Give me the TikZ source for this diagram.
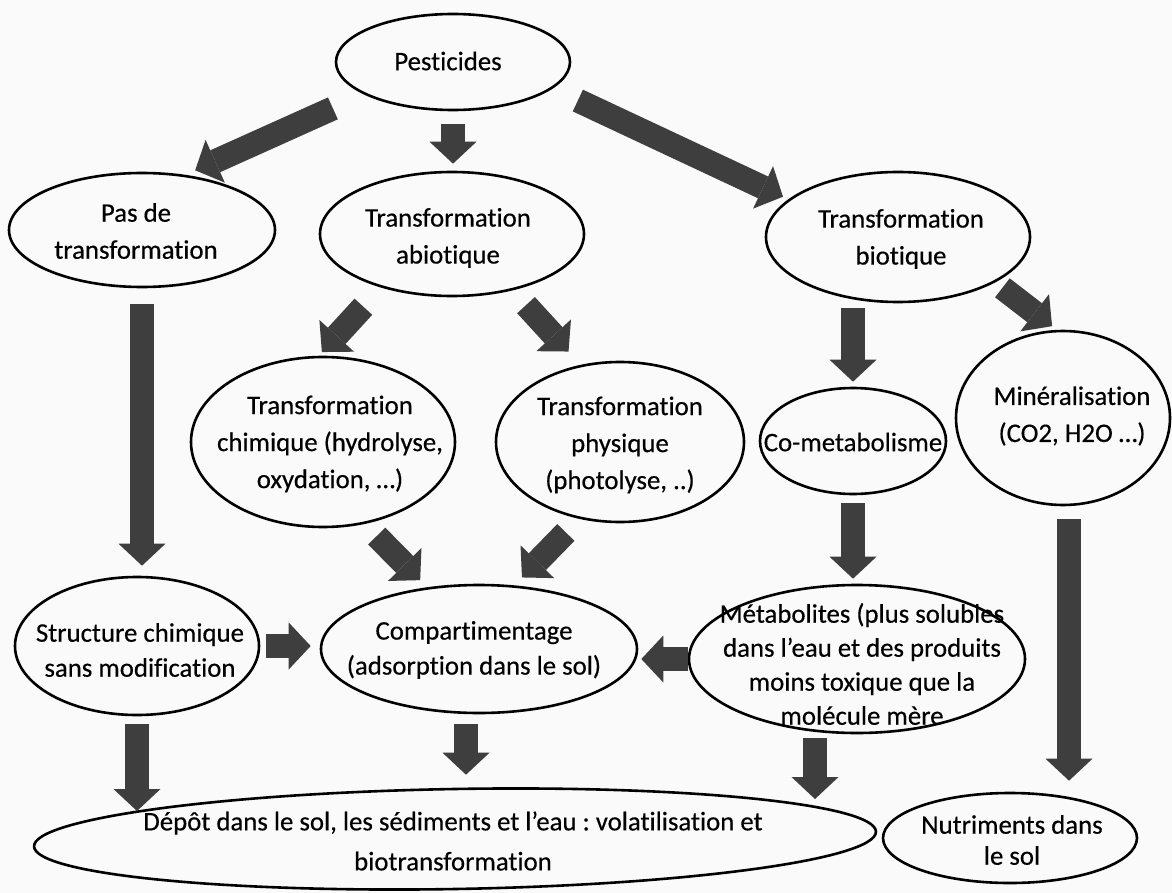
\documentclass[tikz,border=0pt]{standalone}
\usepackage{fontspec}
\setmainfont[Ligatures=NoCommon]{Carlito}
\usetikzlibrary{shapes.geometric,arrows.meta}
\definecolor{arrowgray}{RGB}{62,62,62}
\definecolor{bggray}{RGB}{250,250,250}
\frenchspacing
\begin{document}
\begin{tikzpicture}[x=0.5pt,y=-0.5pt,
  ell/.style={ellipse,draw=black,line width=1.3pt,inner sep=0pt},
  txt/.style={align=center,inner sep=0pt,font=\fontsize{13.4}{18.5}\selectfont\addfontfeatures{FakeBold=0.4}},
  bigarrow/.style={draw=arrowgray,line width=12pt,-{Triangle[length=11pt,width=23.5pt,line width=0pt]}}
]
\fill[bggray] (0,0) rectangle (1172,893);
\useasboundingbox (0,0) rectangle (1172,893);

% ellipses
\node[ell,minimum width=117pt,minimum height=48pt] (pest) at (453,62) {};
\node[ell,minimum width=133pt,minimum height=57pt] (pas) at (142,230) {};
\node[ell,minimum width=132pt,minimum height=62pt] (abio) at (452,234) {};
\node[ell,minimum width=132pt,minimum height=65pt] (bio) at (898,237) {};
\node[ell,minimum width=132pt,minimum height=85pt] (chim) at (323,442) {};
\node[ell,minimum width=124pt,minimum height=80pt] (phys) at (620,442) {};
\node[ell,minimum width=93pt,minimum height=53pt] (cometa) at (853,441) {};
\node[ell,minimum width=107pt,minimum height=87pt] (mine) at (1063,418) {};
\node[ell,minimum width=122pt,minimum height=69pt] (struct) at (137,646) {};
\node[ell,minimum width=158pt,minimum height=64pt] (comp) at (479,649) {};
\node[ell,minimum width=168pt,minimum height=74pt] (meta) at (857,659) {};
\node[ell,minimum width=421pt,minimum height=50pt,rotate=1] (depot) at (455,839) {};
\node[ell,minimum width=127pt,minimum height=45pt] (nutri) at (1010,838) {};

% texts
\node[txt] (pestT) at (448,61) {Pesticides};
\node[txt] (pasT) at (136,231) {Pas de\\transformation};
\node[txt] (abioT) at (448,238) {Transformation\\abiotique};
\node[txt] (bioT) at (901,239) {Transformation\\biotique};
\node[txt] (chimT) at (330,444) {Transformation\\chimique (hydrolyse,\\oxydation, …)};
\node[txt] (physT) at (620,445) {Transformation\\physique\\(photolyse, ..)};
\node[txt] (cometaT) at (853,442) {Co-metabolisme};
\node[txt] (mineT) at (1072,416) {Minéralisation\\(CO2, H2O …)};
\node[txt,font=\fontsize{13.4}{17.5}\selectfont\addfontfeatures{FakeBold=0.4}] (structT) at (140,650) {Structure chimique\\sans modification};
\node[txt,font=\fontsize{13.4}{17.5}\selectfont\addfontfeatures{FakeBold=0.4}] (compT) at (474,650) {Compartimentage\\(adsorption dans le sol)};
\node[txt,font=\fontsize{13.4}{17}\selectfont\addfontfeatures{FakeBold=0.4}] (metaT) at (862,664) {Métabolites (plus solubles\\dans l’eau et des produits\\moins toxique que la\\molécule mère};
\node[txt,font=\fontsize{13.4}{20}\selectfont\addfontfeatures{FakeBold=0.4}] (depotT) at (453,841) {Dépôt dans le sol, les sédiments et l’eau : volatilisation et\\biotransformation};
\node[txt,font=\fontsize{13.4}{15.5}\selectfont\addfontfeatures{FakeBold=0.4}] (nutriT) at (1012,840) {Nutriments dans\\le sol};

% helper coordinates
\coordinate (ltail) at ([xshift=3pt]mine.south);
\coordinate (ptail) at ([xshift=-6.5pt]comp.south);
\coordinate (qtail) at ([xshift=-21pt]meta.south);

% arrows
\draw[bigarrow,shorten <=17pt,shorten >=5.5pt] (pest.200) -- (pas.52);
\draw[bigarrow,shorten <=6.5pt,shorten >=3.5pt] (pest.south) -- (pest.south |- abio.north);
\draw[bigarrow,shorten <=14pt,shorten >=3pt] (pest.345) -- (bio.161);
\draw[bigarrow,shorten <=8pt,shorten >=5pt] (pas.south) -- (pas.south |- struct.north);
\draw[bigarrow,shorten <=13pt,shorten >=2.5pt] (abio.217) -- (chim.93);
\draw[bigarrow,shorten <=10pt,shorten >=9pt] (abio.317) -- (phys.117);
\draw[bigarrow,shorten <=8.5pt,shorten >=5pt] (chim.297) -- (comp.130);
\draw[bigarrow,shorten <=9.5pt,shorten >=5.5pt] (phys.242) -- (comp.61);
\draw[bigarrow,shorten <=2.5pt,shorten >=2.5pt] (cometa.north |- bio.south) -- (cometa.north);
\draw[bigarrow,shorten <=4.5pt,shorten >=3pt] (bio.335) -- (mine.94);
\draw[bigarrow,shorten <=4pt,shorten >=2.5pt] (cometa.south) -- (cometa.south |- meta.north);
\draw[bigarrow,shorten <=6.5pt,shorten >=5.5pt] (ltail) -- (ltail |- nutri.north);
\draw[bigarrow,shorten <=3pt,shorten >=4.5pt] (struct.east) -- (struct.east -| comp.west);
\draw[bigarrow,shorten <=0pt,shorten >=1.5pt] (meta.west) -- (meta.west -| comp.east);
\draw[bigarrow,shorten <=4pt,shorten >=0pt] (struct.south) -- (struct.south |- depot.174);
\draw[bigarrow,shorten <=5pt,shorten >=6.5pt] (ptail) -- (ptail |- depot.north);
\draw[bigarrow,shorten <=2pt,shorten >=4pt] (qtail) -- (qtail |- depot.4);
\end{tikzpicture}
\end{document}
